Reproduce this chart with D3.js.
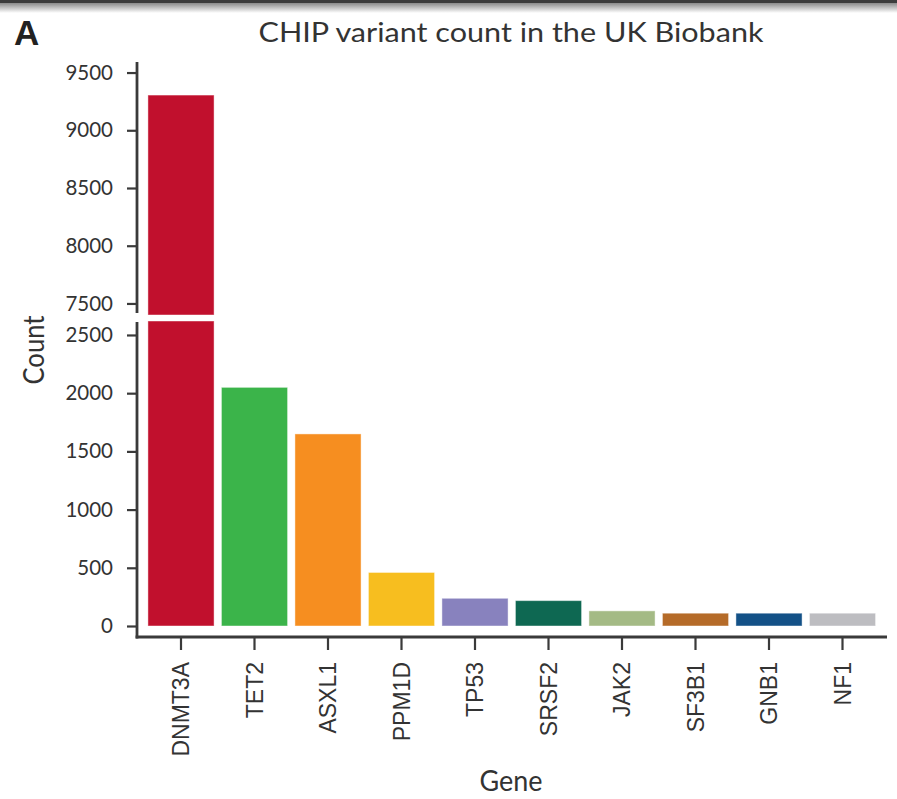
<!DOCTYPE html>
<html>
<head>
<meta charset="utf-8">
<script src="https://cdn.jsdelivr.net/npm/d3@7"></script>
<style>
  html, body { margin: 0; padding: 0; background: #fff; }
  svg { display: block; }
</style>
</head>
<body>
<svg id="chart" width="897" height="799"></svg>
<script>
const genes = ["DNMT3A", "TET2", "ASXL1", "PPM1D", "TP53", "SRSF2", "JAK2", "SF3B1", "GNB1", "NF1"];
const counts = [9305, 2050, 1650, 460, 238, 218, 130, 110, 110, 110];
const colors = ["#C1102D", "#3BB44A", "#F68E20", "#F7BE1F", "#8882BE", "#0E6852", "#A4BA85", "#B56B29", "#135187", "#BDBDC1"];
const topTicks = [7500, 8000, 8500, 9000, 9500];
const bottomTicks = [0, 500, 1000, 1500, 2000, 2500];
const titleText = "CHIP variant count in the UK Biobank";
const panelLabel = "A";
const xTitle = "Gene";
const yTitle = "Count";

const svg = d3.select("#chart");
const axisColor = "#3a3a3a";
const textColor = "#333";

// top border shading
const defs = svg.append("defs");
const grad = defs.append("linearGradient").attr("id", "topShade").attr("x1", 0).attr("y1", 0).attr("x2", 0).attr("y2", 1);
grad.append("stop").attr("offset", "0%").attr("stop-color", "#8a8a8a");
grad.append("stop").attr("offset", "100%").attr("stop-color", "#ffffff");
svg.append("rect").attr("x", 0).attr("y", 0).attr("width", 897).attr("height", 3).attr("fill", "#3c3c3c");
svg.append("rect").attr("x", 0).attr("y", 3).attr("width", 897).attr("height", 10).attr("fill", "url(#topShade)");

// scales
const x = d3.scaleBand().domain(genes).range([144.25, 879.25]).paddingInner(0.1).paddingOuter(0.05);
const yTop = d3.scaleLinear().domain([7400, 9600]).range([315, 61]);
const yBot = d3.scaleLinear().domain([0, 2620]).range([626, 321]);
const axisX = 137;
const baseY = 637;

// bars - bottom segment
const data = genes.map((g, i) => ({ g, v: counts[i], c: colors[i] }));
svg.append("g").selectAll("rect").data(data).join("rect")
  .attr("x", d => x(d.g))
  .attr("width", x.bandwidth())
  .attr("y", d => yBot(Math.min(d.v, yBot.domain()[1])))
  .attr("height", d => yBot(0) - yBot(Math.min(d.v, yBot.domain()[1])))
  .attr("fill", d => d.c)
  .attr("stroke", "#ffffff").attr("stroke-opacity", 0.45).attr("stroke-width", 1);

// bars - top segment
svg.append("g").selectAll("rect").data(data.filter(d => d.v > yTop.domain()[0])).join("rect")
  .attr("x", d => x(d.g))
  .attr("width", x.bandwidth())
  .attr("y", d => yTop(d.v))
  .attr("height", d => yTop(yTop.domain()[0]) - yTop(d.v))
  .attr("fill", d => d.c)
  .attr("stroke", "#ffffff").attr("stroke-opacity", 0.45).attr("stroke-width", 1);

// y axes
function styleAxis(g) {
  g.select(".domain").remove();
  g.selectAll(".tick line").attr("stroke", axisColor).attr("stroke-width", 2.2);
  g.selectAll(".tick text").attr("fill", textColor)
    .attr("font-family", "Lato, 'Open Sans', sans-serif").attr("font-size", 20.5);
}
svg.append("g").attr("transform", `translate(${axisX},0)`)
  .call(d3.axisLeft(yTop).tickValues(topTicks).tickSize(10).tickPadding(14).tickFormat(d3.format("d")))
  .call(styleAxis);
svg.append("g").attr("transform", `translate(${axisX},0)`)
  .call(d3.axisLeft(yBot).tickValues(bottomTicks).tickSize(10).tickPadding(14).tickFormat(d3.format("d")))
  .call(styleAxis);

// y axis lines
svg.append("line").attr("x1", axisX).attr("x2", axisX).attr("y1", yTop.range()[1] + 1).attr("y2", yTop.range()[0] - 2)
  .attr("stroke", axisColor).attr("stroke-width", 2.8);
svg.append("line").attr("x1", axisX).attr("x2", axisX).attr("y1", yBot.range()[1] + 1).attr("y2", baseY + 1.4)
  .attr("stroke", axisColor).attr("stroke-width", 2.8);

// x axis
const xg = svg.append("g").attr("transform", `translate(0,${baseY})`)
  .call(d3.axisBottom(x).tickSize(13).tickSizeOuter(0));
xg.select(".domain").remove();
xg.selectAll(".tick line").attr("stroke", axisColor).attr("stroke-width", 2.2);
xg.selectAll(".tick text")
  .attr("fill", textColor)
  .attr("font-family", "'Liberation Sans', Arial, sans-serif")
  .attr("font-size", 23)
  .attr("text-anchor", "end")
  .attr("transform", "rotate(-90)")
  .attr("x", -25).attr("y", 0).attr("dy", "0.36em");
svg.append("line").attr("x1", axisX - 1.4).attr("x2", 887).attr("y1", baseY).attr("y2", baseY)
  .attr("stroke", axisColor).attr("stroke-width", 2.8);

// titles
svg.append("text").attr("x", 511).attr("y", 42).attr("text-anchor", "middle")
  .attr("font-family", "Lato, 'Open Sans', sans-serif").attr("font-size", 27).attr("fill", textColor)
  .attr("textLength", 505).attr("lengthAdjust", "spacingAndGlyphs")
  .text(titleText);
svg.append("text").attr("x", 14).attr("y", 45)
  .attr("font-family", "'Liberation Sans', Arial, sans-serif").attr("font-weight", "bold").attr("font-size", 35).attr("fill", "#222")
  .text(panelLabel);
svg.append("text").attr("transform", "translate(44,350) rotate(-90)").attr("text-anchor", "middle")
  .attr("font-family", "Lato, 'Open Sans', sans-serif").attr("font-size", 28).attr("fill", textColor)
  .attr("textLength", 69).attr("lengthAdjust", "spacingAndGlyphs")
  .text(yTitle);
svg.append("text").attr("x", 511).attr("y", 791).attr("text-anchor", "middle")
  .attr("font-family", "Lato, 'Open Sans', sans-serif").attr("font-size", 28).attr("fill", textColor)
  .attr("textLength", 63).attr("lengthAdjust", "spacingAndGlyphs")
  .text(xTitle);
</script>
</body>
</html>
